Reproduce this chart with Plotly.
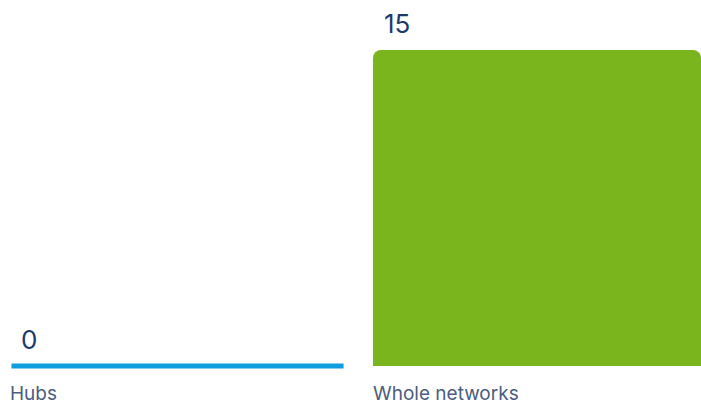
import plotly.graph_objects as go

categories = ["Hubs", "Whole networks"]
values = [0, 15]
value_labels = ["0", "15"]
bar_colors = ["#0f9ddf", "#7ab51e"]

# Both bars start at the same offset from their slot; the second one is a bit narrower
positions = [0, 1]
bar_width = [0.9229, 0.9036]
bar_offset = -0.4614

fig = go.Figure()

fig.add_trace(go.Bar(
    x=positions,
    y=values,
    width=bar_width,
    offset=bar_offset,
    marker=dict(color=bar_colors, line=dict(width=0)),
    hoverinfo="skip",
    showlegend=False,
))

# A zero-valued bar has no height, so its baseline stroke is drawn as a line at y=0
for pos, val, col, w in zip(positions, values, bar_colors, bar_width):
    if val == 0:
        fig.add_trace(go.Scatter(
            x=[pos + bar_offset + 0.004, pos + bar_offset + w - 0.004],
            y=[val, val],
            mode="lines",
            line=dict(color=col, width=5),
            hoverinfo="skip",
            showlegend=False,
        ))

annotations = []
for pos, val, lab, cat in zip(positions, values, value_labels, categories):
    left = pos + bar_offset
    annotations.append(dict(
        x=left, y=val, xref="x", yref="y",
        text=lab, showarrow=False,
        xanchor="left", yanchor="bottom",
        xshift=9, yshift=9,
        font=dict(family="Inter, Open Sans, sans-serif", size=26, color="#1d3a6b"),
    ))
    annotations.append(dict(
        x=left, y=0.027, xref="x", yref="paper",
        text=cat, showarrow=False,
        xanchor="left", yanchor="middle",
        xshift=-2,
        font=dict(family="Inter, Open Sans, sans-serif", size=19, color="#4b5d80"),
    ))

fig.update_layout(
    width=701, height=404,
    margin=dict(l=0, r=0, t=0, b=0),
    paper_bgcolor="white",
    plot_bgcolor="white",
    barcornerradius=8,
    xaxis=dict(range=[-0.4890, 1.4422], visible=False, fixedrange=True),
    yaxis=dict(range=[-1.804, 17.373], visible=False, fixedrange=True),
    annotations=annotations,
)

fig.write_html("out.html")
